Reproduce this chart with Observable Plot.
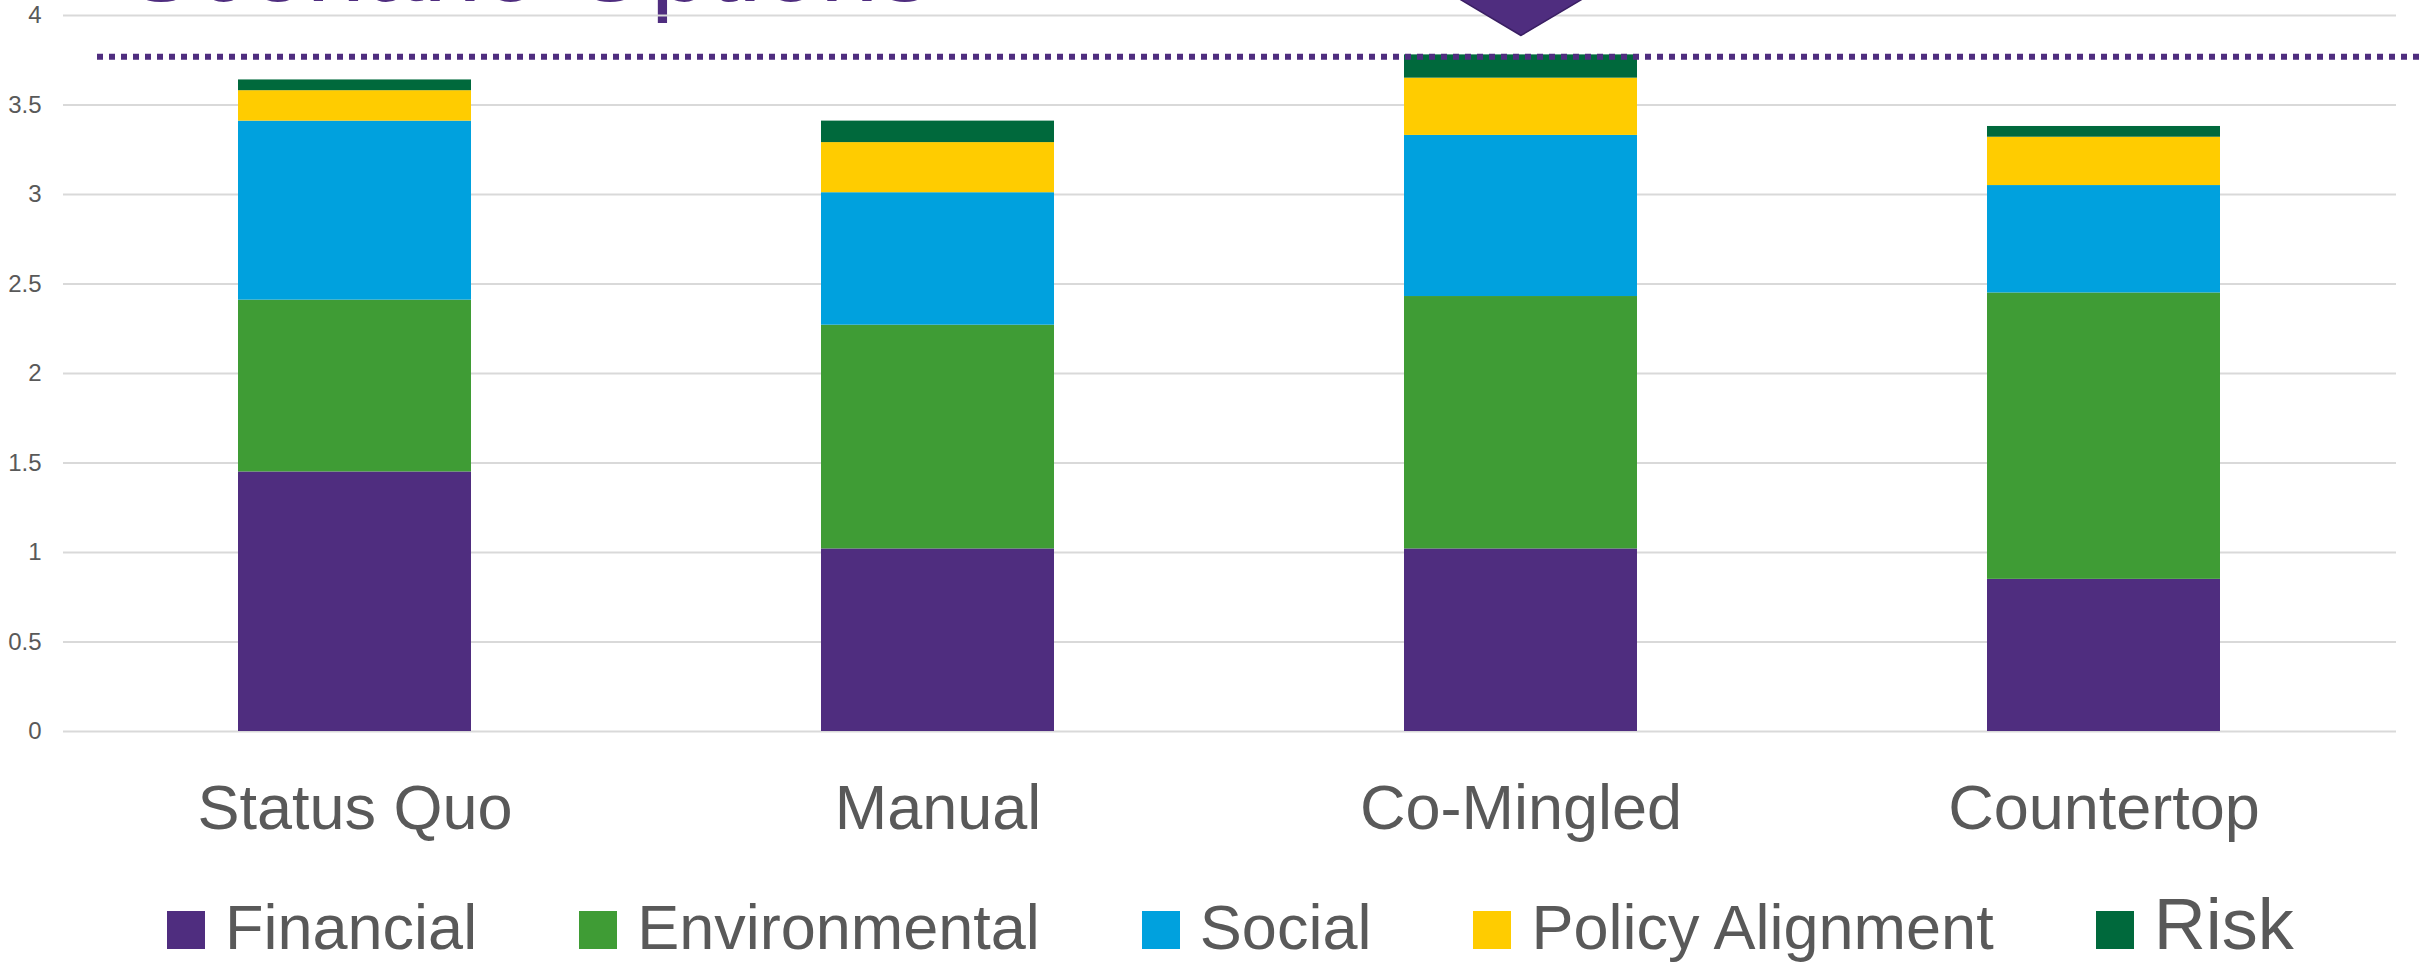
<!DOCTYPE html>
<html>
<head>
<meta charset="utf-8">
<script src="https://cdn.jsdelivr.net/npm/d3@7"></script>
<script src="https://cdn.jsdelivr.net/npm/@observablehq/plot@0.6"></script>
<style>
  html, body { margin: 0; padding: 0; background: #fff; }
  body { width: 2420px; height: 965px; overflow: hidden; position: relative;
         font-family: "Liberation Sans", Arial, Helvetica, sans-serif; }
  #chart { position: absolute; left: 0; top: 0; }
  #title { position: absolute; top: -88px; left: 0; width: 931px; text-align: right;
           font-size: 105px; line-height: 1; color: #4F2D7F; white-space: nowrap; }
  #legend { position: absolute; left: 167px; top: 888px; white-space: nowrap;
            color: #595959; line-height: 1; font-size: 63px; }
  .item { display: inline-block; margin-right: 102px; }
  .item:last-child { margin-right: 0; }
  .sw { display: inline-block; width: 38px; height: 38px; margin-right: 20px; vertical-align: baseline; }
</style>
</head>
<body>
<div id="title">Scenario Options</div>
<div id="chart"></div>
<div id="legend"></div>
<script>
// ---- data ----
const scenarios = ["Status Quo", "Manual", "Co-Mingled", "Countertop"];
const criteria = ["Financial", "Environmental", "Social", "Policy Alignment", "Risk"];
const financial = [1.45, 1.02, 1.02, 0.85];
const environmental = [0.96, 1.25, 1.41, 1.60];
const social = [1.00, 0.74, 0.90, 0.60];
const policyAlignment = [0.17, 0.28, 0.32, 0.27];
const risk = [0.06, 0.12, 0.13, 0.06];
const yTicks = [0, 0.5, 1, 1.5, 2, 2.5, 3, 3.5, 4];
const targetLine = [3.77];
const highlighted = ["Co-Mingled"];

const colors = ["#4F2D7F", "#3F9C35", "#00A1DE", "#FFCC00", "#00693C"];
const series = [financial, environmental, social, policyAlignment, risk];

const rows = scenarios.flatMap((s, i) =>
  criteria.map((c, j) => ({scenario: s, criterion: c, value: series[j][i]})));

// wide downward-pointing marker (tip at origin)
const downArrow = {
  draw(ctx) {
    ctx.moveTo(0, 0);
    ctx.lineTo(-101, -60);
    ctx.lineTo(101, -60);
    ctx.closePath();
  }
};

const chart = Plot.plot({
  width: 2420,
  height: 871,
  marginLeft: 63,
  marginRight: 0,
  marginTop: 15,
  marginBottom: 140,
  style: {color: "#595959", fontFamily: "'Liberation Sans', Arial, Helvetica, sans-serif", background: "transparent", overflow: "visible"},
  x: {domain: scenarios, range: [63, 2396], paddingInner: 0.6, paddingOuter: 0.3, axis: null},
  y: {domain: [0, 4], axis: null},
  color: {domain: criteria, range: colors},
  marks: [
    Plot.ruleY(yTicks, {stroke: "#D9D9D9", strokeWidth: 1.8, insetRight: 24}),
    Plot.barY(rows, {x: "scenario", y: "value", fill: "criterion"}),
    Plot.ruleY(targetLine, {stroke: "#4F2D7F", strokeWidth: 6, strokeDasharray: "6,6", insetLeft: 34}),
    Plot.axisY(yTicks, {tickSize: 0, tickPadding: 22, fontSize: 24, label: null, tickFormat: d => String(d)}),
    Plot.axisX({tickSize: 0, tickPadding: 53, fontSize: 63, label: null}),
    Plot.dot(highlighted, {x: d => d, frameAnchor: "top", dy: 20, symbol: downArrow,
                           fill: "#4F2D7F", stroke: "#3A1F63", strokeWidth: 1.5})
  ]
});
document.getElementById("chart").appendChild(chart);

// legend
const legend = document.getElementById("legend");
criteria.forEach((c, j) => {
  const item = document.createElement("span");
  item.className = "item";
  if (c === "Risk") item.style.fontSize = "72px";
  const sw = document.createElement("span");
  sw.className = "sw";
  sw.style.background = colors[j];
  item.appendChild(sw);
  item.appendChild(document.createTextNode(c));
  legend.appendChild(item);
});
</script>
</body>
</html>
